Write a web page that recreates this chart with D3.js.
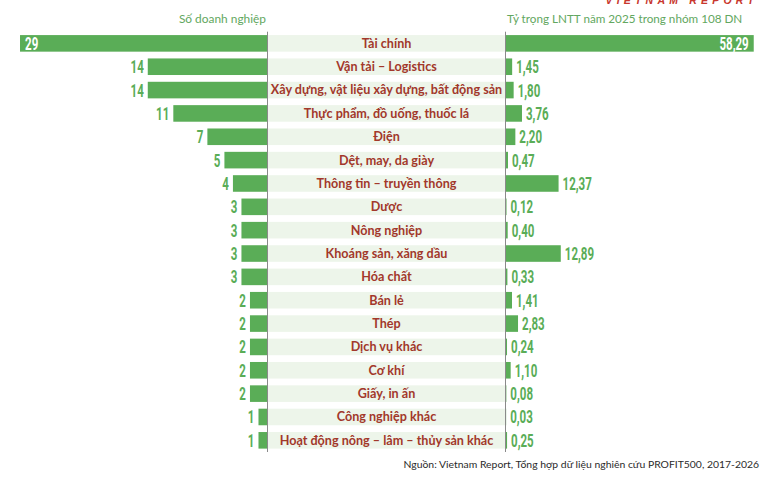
<!DOCTYPE html>
<html><head><meta charset="utf-8">
<script src="https://cdn.jsdelivr.net/npm/d3@7"></script>
<style>body{margin:0;background:#fff}svg{display:block}</style>
</head><body>
<svg id="c" width="780" height="482"></svg>
<script>
const categories = ["Tài chính","Vận tải – Logistics","Xây dựng, vật liệu xây dựng, bất động sản","Thực phẩm, đồ uống, thuốc lá","Điện","Dệt, may, da giày","Thông tin – truyền thông","Dược","Nông nghiệp","Khoáng sản, xăng dầu","Hóa chất","Bán lẻ","Thép","Dịch vụ khác","Cơ khí","Giấy, in ấn","Công nghiệp khác","Hoạt động nông – lâm – thủy sản khác"];
const soDoanhNghiep = [29,14,14,11,7,5,4,3,3,3,3,2,2,2,2,2,1,1];
const tyTrong = [58.29,1.45,1.80,3.76,2.20,0.47,12.37,0.12,0.40,12.89,0.33,1.41,2.83,0.24,1.10,0.08,0.03,0.25];
const leftTitle = "Số doanh nghiệp";
const rightTitle = "Tỷ trọng LNTT năm 2025 trong nhóm 108 DN";
const sourceText = "Nguồn: Vietnam Report, Tổng hợp dữ liệu nghiên cứu PROFIT500, 2017-2026";
const brand = "VIETNAM REPORT";

const svg = d3.select("#c");
const green = "#5aad57", labelRed = "#a2382b", band = "#edf5ea", titleGreen = "#62a760";
const numFont = "Roboto,'DejaVu Sans',sans-serif";
const lblFont = "Lato,'Open Sans',sans-serif";

const y = d3.scaleBand().domain(categories).range([31.7, 452]).paddingInner(0.29).paddingOuter(0.145);
const xL = d3.scaleLinear().domain([0, 30]).range([267, 11.5]);
const xR = d3.scaleLinear().domain([0, 60]).range([506, 761]);
const fmt = v => v.toFixed(2).replace(".", ",");

// center label bands
svg.append("g").selectAll("rect").data(categories).join("rect")
  .attr("x", 268).attr("width", 237).attr("y", d => y(d)).attr("height", y.bandwidth())
  .attr("fill", band);
svg.append("g").selectAll("text").data(categories).join("text")
  .attr("x", 386.5).attr("y", d => y(d) + y.bandwidth() / 2).attr("dy", "0.35em")
  .attr("text-anchor", "middle").attr("font-family", lblFont).attr("font-weight", 700)
  .attr("font-size", 12.6).attr("fill", labelRed).text(d => d);

// left bars
svg.append("g").selectAll("rect").data(soDoanhNghiep).join("rect")
  .attr("x", d => xL(d)).attr("width", d => xL(0) - xL(d))
  .attr("y", (d, i) => y(categories[i])).attr("height", y.bandwidth()).attr("fill", green);
// right bars
svg.append("g").selectAll("rect").data(tyTrong).join("rect")
  .attr("x", xR(0)).attr("width", d => xR(d) - xR(0))
  .attr("y", (d, i) => y(categories[i])).attr("height", y.bandwidth()).attr("fill", green);

// axis lines
svg.append("line").attr("x1", 267.5).attr("x2", 267.5).attr("y1", y.range()[0]).attr("y2", y.range()[1]).attr("stroke", "#8a8a8a").attr("stroke-width", 1);
svg.append("line").attr("x1", 505.5).attr("x2", 505.5).attr("y1", y.range()[0]).attr("y2", y.range()[1]).attr("stroke", "#8a8a8a").attr("stroke-width", 1);

// left values
const maxL = d3.max(soDoanhNghiep), maxR = d3.max(tyTrong);
const sx = 0.64;
svg.append("g").selectAll("g").data(soDoanhNghiep).join("g")
  .attr("transform", (d, i) => {
    const yy = y(categories[i]) + y.bandwidth() / 2;
    const xx = d === maxL ? xL(d) + 5 : xL(d) - 4;
    return `translate(${xx},${yy})`;
  })
  .append("text").attr("transform", `scale(${sx},1)`).attr("dy", "0.36em")
  .attr("text-anchor", d => d === maxL ? "start" : "end")
  .attr("font-family", numFont).attr("font-weight", 700).attr("font-size", 18)
  .attr("fill", d => d === maxL ? "#fff" : green).text(d => d);

// right values
svg.append("g").selectAll("g").data(tyTrong).join("g")
  .attr("transform", (d, i) => {
    const yy = y(categories[i]) + y.bandwidth() / 2;
    const xx = d === maxR ? xR(d) - 5 : xR(d) + 4;
    return `translate(${xx},${yy})`;
  })
  .append("text").attr("transform", `scale(${sx},1)`).attr("dy", "0.36em")
  .attr("text-anchor", d => d === maxR ? "end" : "start")
  .attr("font-family", numFont).attr("font-weight", 700).attr("font-size", 18)
  .attr("fill", d => d === maxR ? "#fff" : green).text(d => fmt(d));

// titles
svg.append("text").attr("x", 266).attr("y", 23).attr("text-anchor", "end")
  .attr("font-family", lblFont).attr("font-size", 11.9).attr("fill", titleGreen).text(leftTitle);
svg.append("text").attr("x", 507).attr("y", 23)
  .attr("font-family", lblFont).attr("font-size", 11.7).attr("fill", titleGreen).text(rightTitle);

// brand (cut at top, as in the source image)
svg.append("text").attr("x", 758).attr("y", 3.5).attr("text-anchor", "end")
  .attr("font-family", "'Liberation Sans',sans-serif").attr("font-weight", 700).attr("font-style", "italic")
  .attr("font-size", 10.5).attr("letter-spacing", 4.2).attr("fill", "#c8372d").text(brand);

// source
svg.append("text").attr("x", 759).attr("y", 468).attr("text-anchor", "end")
  .attr("font-family", lblFont).attr("font-size", 10.4).attr("fill", "#2a2a2a").text(sourceText);
</script>
</body></html>
